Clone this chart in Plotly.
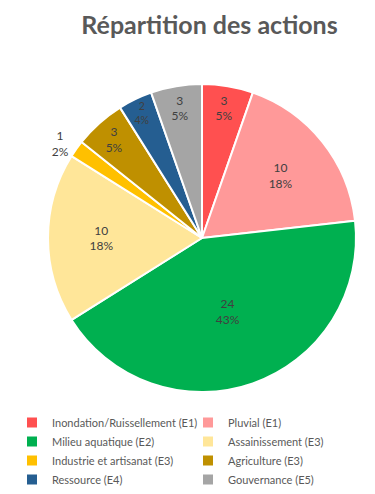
import plotly.graph_objects as go

labels = ["Inondation/Ruissellement (E1)", "Pluvial (E1)", "Milieu aquatique (E2)",
          "Assainissement (E3)", "Industrie et artisanat (E3)", "Agriculture (E3)",
          "Ressource (E4)", "Gouvernance (E5)"]
values = [3, 10, 24, 10, 1, 3, 2, 3]
colors = ["#FF5050", "#FF9999", "#00B050", "#FFE699", "#FFC000", "#BF9000", "#255E91", "#A5A5A5"]
positions = ["inside", "inside", "inside", "inside", "outside", "inside", "inside", "inside"]

W, H = 375, 494
cx, cy, r = 194, 230, 154
FONT = "Lato, Liberation Sans, sans-serif"

fig = go.Figure(go.Pie(
    labels=labels, values=values, sort=False, direction="clockwise", rotation=0,
    marker=dict(colors=colors, line=dict(color="white", width=2)),
    texttemplate="%{value}<br>%{percent:.0%}",
    textposition=positions,
    insidetextorientation="horizontal",
    textfont=dict(family=FONT, size=12, color="#404040"),
    outsidetextfont=dict(family=FONT, size=12, color="#404040"),
    domain=dict(x=[(cx - r) / W, (cx + r) / W], y=[1 - (cy + r) / H, 1 - (cy - r) / H]),
    hoverinfo="label+value+percent",
))

fig.update_layout(
    width=W, height=H,
    margin=dict(l=0, r=0, t=0, b=0),
    paper_bgcolor="white", plot_bgcolor="white",
    title=dict(text="<b>Répartition des actions</b>", x=201.5 / W, xanchor="center",
               y=1 - 17 / H, yanchor="middle",
               font=dict(family=FONT, size=25, color="#595959")),
    legend=dict(orientation="h", x=4 / W, xanchor="left", y=1 - 400 / H, yanchor="top",
                entrywidth=131, entrywidthmode="pixels", itemwidth=30,
                font=dict(family=FONT, size=11, color="#595959"),
                tracegroupgap=0, traceorder="normal"),
)

fig.write_html("out.html")
